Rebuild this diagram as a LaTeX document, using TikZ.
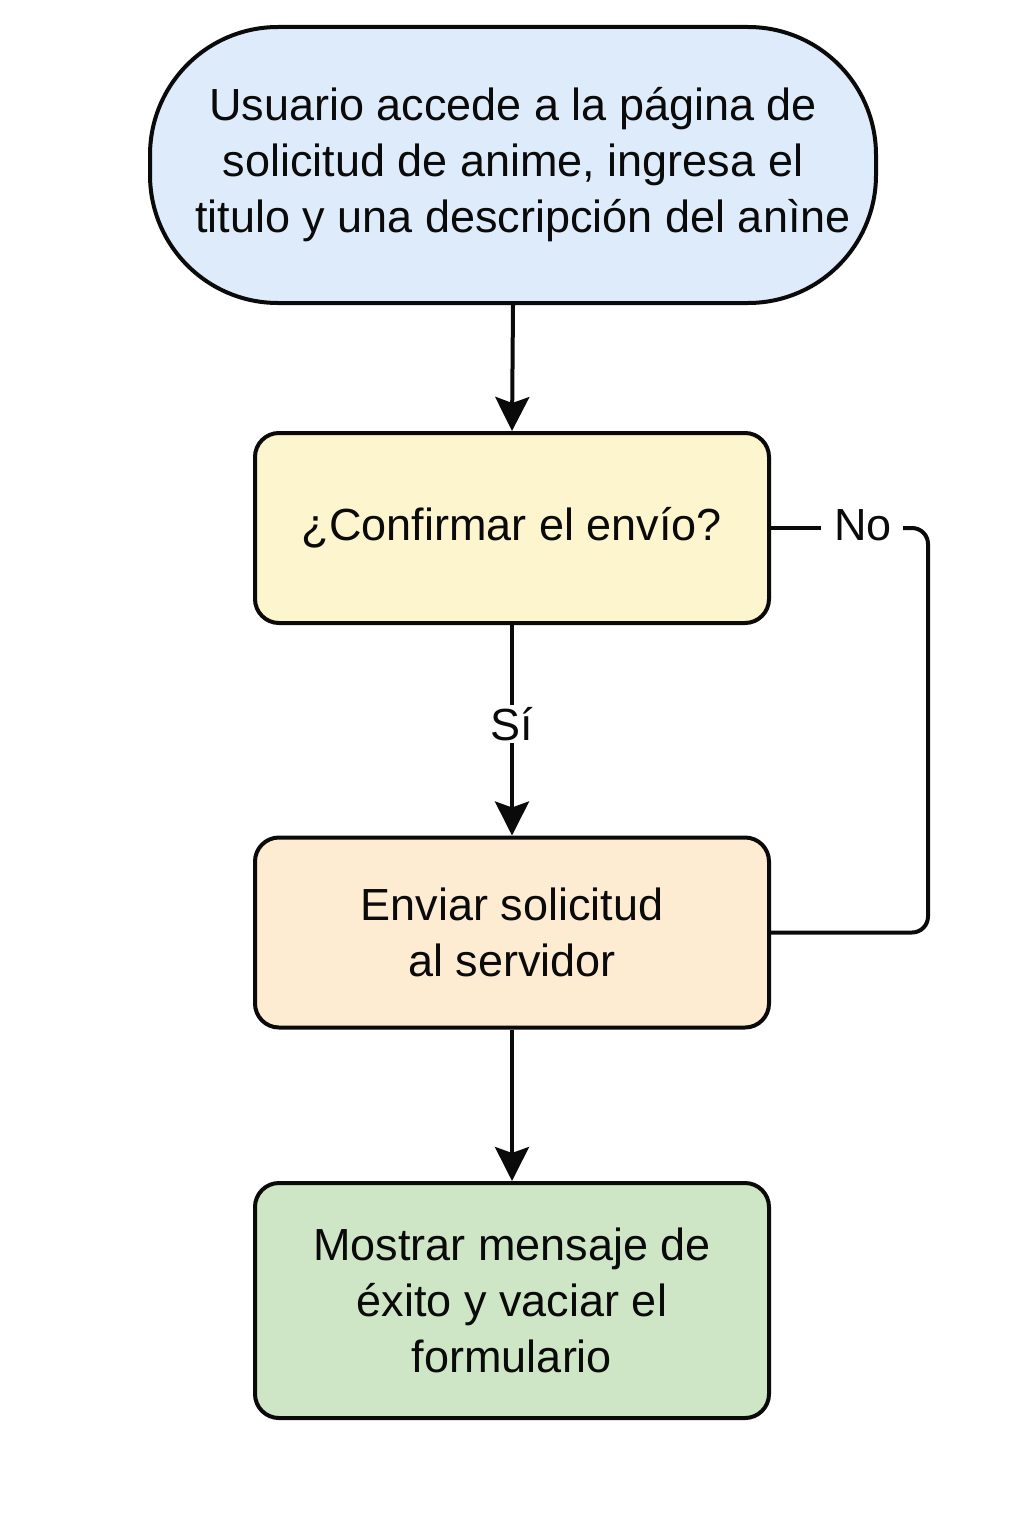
\documentclass[tikz,border=0pt]{standalone}
\usepackage{fontspec}
\setmainfont{Liberation Sans}
\usetikzlibrary{arrows.meta}
\definecolor{cblue}{HTML}{DEEBFA}
\definecolor{cyellow}{HTML}{FDF5CE}
\definecolor{corange}{HTML}{FDEBD2}
\definecolor{cgreen}{HTML}{CEE6C5}
\definecolor{cline}{HTML}{0A0A0A}
\begin{document}
\begin{tikzpicture}[x=0.5pt,y=-0.5pt,
  txt/.style={font=\fontsize{22.5}{28}\selectfont, text=cline},
  procbox/.style={txt, draw=cline, line width=2pt, rounded corners=12pt, minimum width=257pt, align=center, inner sep=0pt},
  startbox/.style={txt, draw=cline, line width=2pt, rounded corners=64pt, minimum width=363pt, minimum height=138pt, align=center, inner sep=0pt, fill=cblue},
  conn/.style={draw=cline, line width=2pt},
  arr/.style={conn, -{Stealth[length=17pt,width=17pt,inset=3pt]}},
  lbl/.style={txt, fill=white, inner sep=1pt}
]
\useasboundingbox (0,0) rectangle (1024,1536);
\node[startbox] (start) at (513,165) {Usuario accede a la página de\\solicitud de anime, ingresa el\\\hspace*{10pt}titulo y una descripción del anìne};
\node[procbox, fill=cyellow, minimum height=95pt] (conf) at (512,528) {¿Confirmar el envío?};
\node[procbox, fill=corange, minimum height=95pt] (send) at (512,932.5) {Enviar solicitud\\al servidor};
\node[procbox, fill=cgreen, minimum height=117.5pt] (done) at (512,1300.5) {Mostrar mensaje de\\éxito y vaciar el\\formulario};
\draw[arr] (start.south) -- (conf.north);
\draw[arr] (conf.south) -- node[lbl, pos=0.47] (si) {Sí} (send.north);
\draw[arr] (send.south) -- (done.north);
\node[txt, inner sep=0pt] (no) at (863,525) {No};
\coordinate (nr) at (928,528);
\draw[conn] (conf.east) -- ([xshift=-6.5]no.west |- conf.east);
\draw[conn, rounded corners=8pt] ([xshift=5.5]no.east |- conf.east) -- (nr) |- (send.east);
\end{tikzpicture}
\end{document}
